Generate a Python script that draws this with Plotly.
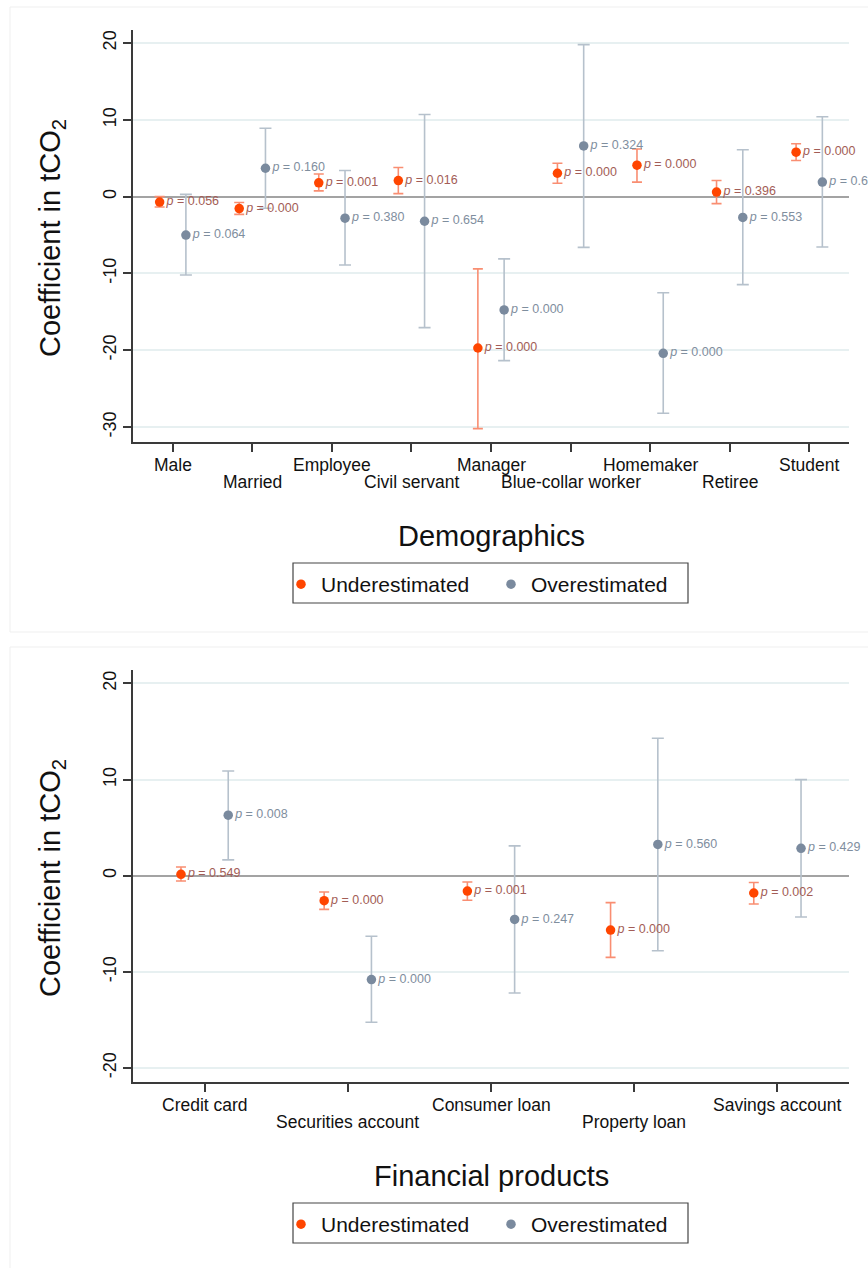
import plotly.graph_objects as go

# ---------------- Data ----------------
demo_cats = ["Male", "Married", "Employee", "Civil servant", "Manager",
             "Blue-collar worker", "Homemaker", "Retiree", "Student"]
demo_under_est = [-0.7, -1.55, 1.8, 2.1, -19.7, 3.05, 4.1, 0.6, 5.8]
demo_under_lo = [-1.35, -2.3, 0.75, 0.4, -30.2, 1.75, 1.9, -0.9, 4.7]
demo_under_hi = [0.0, -0.75, 2.95, 3.8, -9.4, 4.35, 6.2, 2.1, 6.9]
demo_under_p = ["0.056", "0.000", "0.001", "0.016", "0.000", "0.000", "0.000", "0.396", "0.000"]
demo_over_est = [-5.0, 3.7, -2.8, -3.2, -14.75, 6.6, -20.4, -2.7, 1.9]
demo_over_lo = [-10.2, -1.5, -8.9, -17.05, -21.35, -6.6, -28.2, -11.45, -6.55]
demo_over_hi = [0.3, 8.9, 3.4, 10.7, -8.1, 19.8, -12.5, 6.1, 10.4]
demo_over_p = ["0.064", "0.160", "0.380", "0.654", "0.000", "0.324", "0.000", "0.553", "0.659"]

fin_cats = ["Credit card", "Securities account", "Consumer loan", "Property loan", "Savings account"]
fin_under_est = [0.15, -2.6, -1.6, -5.65, -1.8]
fin_under_lo = [-0.55, -3.5, -2.55, -8.5, -2.95]
fin_under_hi = [0.9, -1.7, -0.65, -2.8, -0.7]
fin_under_p = ["0.549", "0.000", "0.001", "0.000", "0.002"]
fin_over_est = [6.3, -10.8, -4.55, 3.25, 2.85]
fin_over_lo = [1.65, -15.25, -12.2, -7.8, -4.3]
fin_over_hi = [10.9, -6.3, 3.1, 14.3, 10.0]
fin_over_p = ["0.008", "0.000", "0.247", "0.560", "0.429"]

demo_yticks = [-30, -20, -10, 0, 10, 20]
fin_yticks = [-20, -10, 0, 10, 20]

# ---------------- Style ----------------
W, H = 868, 1268
FONT = "Liberation Sans, Arial, sans-serif"
UNDER_C = "#ff4500"
UNDER_CI = "#f98e72"
UNDER_TXT = "#a35d56"
OVER_C = "#7a8a9e"
OVER_CI = "#b6c1cc"
OVER_TXT = "#7f8e9e"
OFF = 0.165


def px_y(p):
    return 1 - p / H


fig = go.Figure()


def add_panel(cats, u_est, u_lo, u_hi, u_p, o_est, o_lo, o_hi, o_p, xa, ya, legend):
    n = len(cats)
    xs = list(range(n))
    groups = [
        ("Underestimated", -OFF, u_est, u_lo, u_hi, u_p, UNDER_C, UNDER_CI, UNDER_TXT, 5),
        ("Overestimated", OFF, o_est, o_lo, o_hi, o_p, OVER_C, OVER_CI, OVER_TXT, 6),
    ]
    for name, off, est, lo, hi, pv, mc, cic, tc, capw in groups:
        x = [i + off for i in xs]
        fig.add_trace(go.Scatter(
            x=x, y=est, mode="markers", name=name,
            marker=dict(color=mc, size=9.5),
            error_y=dict(type="data", symmetric=False,
                         array=[h - e for h, e in zip(hi, est)],
                         arrayminus=[e - l for e, l in zip(est, lo)],
                         color=cic, thickness=1.6, width=capw),
            xaxis=xa, yaxis=ya, legend=legend, hoverinfo="skip",
        ))
    for name, off, est, lo, hi, pv, mc, cic, tc, capw in groups:
        x = [i + off for i in xs]
        fig.add_trace(go.Scatter(
            x=x, y=est, mode="markers+text", showlegend=False,
            marker=dict(color="rgba(0,0,0,0)", size=9.5),
            text=["<i>p</i> = " + p for p in pv],
            textposition="middle right",
            textfont=dict(family=FONT, size=12.5, color=tc),
            cliponaxis=False,
            xaxis=xa, yaxis=ya, hoverinfo="skip",
        ))


add_panel(demo_cats, demo_under_est, demo_under_lo, demo_under_hi, demo_under_p,
          demo_over_est, demo_over_lo, demo_over_hi, demo_over_p, "x", "y", "legend")
add_panel(fin_cats, fin_under_est, fin_under_lo, fin_under_hi, fin_under_p,
          fin_over_est, fin_over_lo, fin_over_hi, fin_over_p, "x2", "y2", "legend2")

xdom = [133 / W, 849 / W]
top_dom = [px_y(442), px_y(30)]
bot_dom = [px_y(1082), px_y(670)]

axis_common = dict(showline=True, linecolor="#3a3a3a", linewidth=1.6,
                   ticks="outside", ticklen=8, tickwidth=1.6, tickcolor="#3a3a3a",
                   automargin=False)

legend_common = dict(orientation="h", x=281 / W, xanchor="left", yanchor="top",
                     borderwidth=0, bgcolor="rgba(0,0,0,0)",
                     font=dict(size=21, family=FONT, color="#111111"),
                     entrywidth=165, entrywidthmode="pixels")

fig.update_layout(
    width=W, height=H,
    margin=dict(l=0, r=0, t=0, b=0),
    paper_bgcolor="white", plot_bgcolor="white",
    font=dict(family=FONT, color="#111111"),
    xaxis=dict(domain=xdom, range=[-0.5, len(demo_cats) - 0.5], anchor="y",
               tickvals=list(range(len(demo_cats))), showticklabels=False,
               showgrid=False, zeroline=False, **axis_common),
    yaxis=dict(domain=top_dom, range=[-31.94, 21.7], anchor="x",
               tickvals=demo_yticks, ticktext=[str(v) for v in demo_yticks],
               tickangle=-90, tickfont=dict(size=18, color="#111111"),
               showgrid=True, gridcolor="#e7f0f1", gridwidth=1.5,
               zeroline=True, zerolinecolor="#a3a3a3", zerolinewidth=2, **axis_common),
    xaxis2=dict(domain=xdom, range=[-0.5, len(fin_cats) - 0.5], anchor="y2",
                tickvals=list(range(len(fin_cats))), showticklabels=False,
                showgrid=False, zeroline=False, **axis_common),
    yaxis2=dict(domain=bot_dom, range=[-21.46, 21.4], anchor="x2",
                tickvals=fin_yticks, ticktext=[str(v) for v in fin_yticks],
                tickangle=-90, tickfont=dict(size=18, color="#111111"),
                showgrid=True, gridcolor="#e7f0f1", gridwidth=1.5,
                zeroline=True, zerolinecolor="#a3a3a3", zerolinewidth=2, **axis_common),
    legend=dict(y=px_y(564), **legend_common),
    legend2=dict(y=px_y(1204), **legend_common),
    showlegend=True,
)

annotations = []
# staggered category labels
for cats, xref, row1, row2 in [(demo_cats, "x", 465, 482), (fin_cats, "x2", 1105, 1122)]:
    for i, c in enumerate(cats):
        annotations.append(dict(x=i, xref=xref, y=px_y(row1 if i % 2 == 0 else row2), yref="paper",
                                text=c, showarrow=False, xanchor="center", yanchor="middle",
                                font=dict(size=17.5, family=FONT, color="#111111")))
# axis titles
for title, yc in [("Demographics", 536), ("Financial products", 1176)]:
    annotations.append(dict(x=491 / W, xref="paper", y=px_y(yc), yref="paper", text=title,
                            showarrow=False, xanchor="center", yanchor="middle",
                            font=dict(size=29, family=FONT, color="#111111")))
for yc in [238, 878]:
    annotations.append(dict(x=52 / W, xref="paper", y=px_y(yc), yref="paper",
                            text="Coefficient in tCO<sub>2</sub>", textangle=-90,
                            showarrow=False, xanchor="center", yanchor="middle",
                            font=dict(size=29, family=FONT, color="#111111")))
fig.update_layout(annotations=annotations)

shapes = []
# faint panel frames
for top, bot in [(7, 632), (647, 1290)]:
    shapes.append(dict(type="rect", xref="paper", yref="paper",
                       x0=10 / W, x1=1.02, y0=px_y(bot), y1=px_y(top),
                       line=dict(color="#efefef", width=1), fillcolor="rgba(0,0,0,0)", layer="below"))
# legend boxes
for top in [563, 1203]:
    shapes.append(dict(type="rect", xref="paper", yref="paper",
                       x0=293 / W, x1=688 / W, y0=px_y(top + 40), y1=px_y(top),
                       line=dict(color="#444444", width=1.2), fillcolor="rgba(0,0,0,0)"))
fig.update_layout(shapes=shapes)

fig.write_html("out.html",
               config={"displayModeBar": False},
               post_script="document.body.style.margin='0';document.body.style.padding='0';")
